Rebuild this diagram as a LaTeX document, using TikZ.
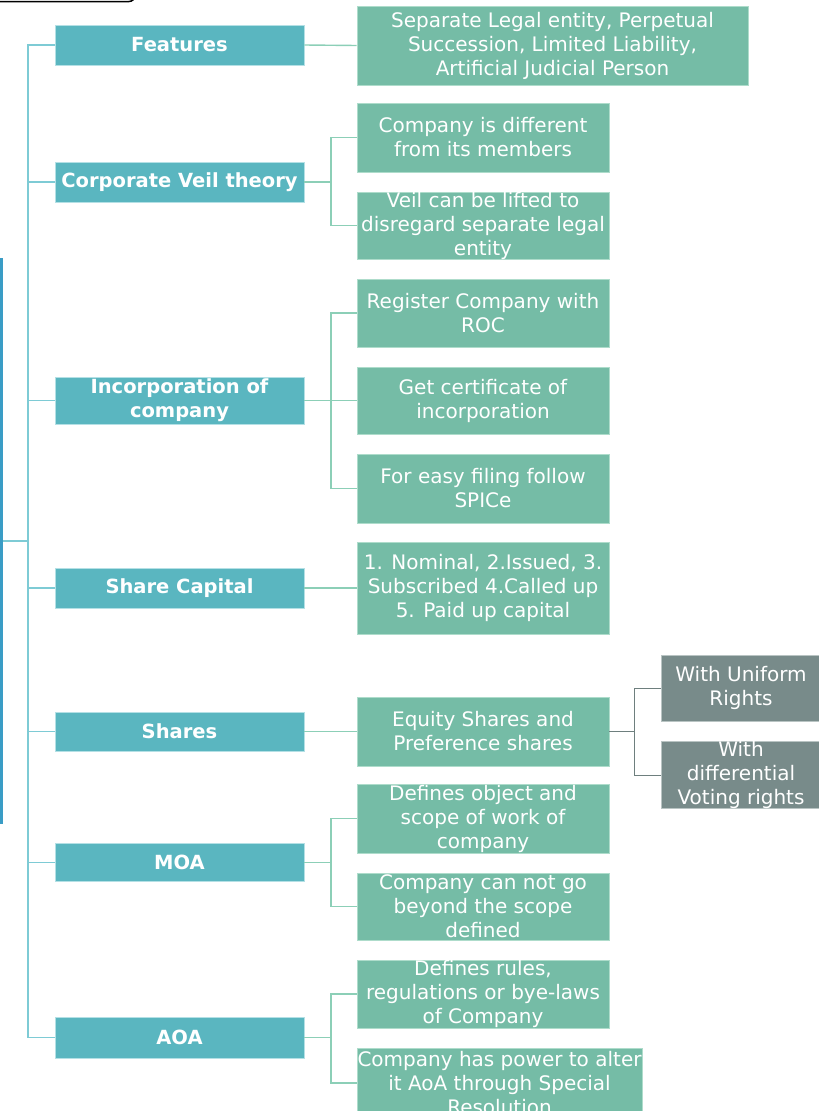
\documentclass[tikz,border=0pt]{standalone}
\usepackage{fontspec}
\setmainfont{DejaVu Sans}
\definecolor{topicfill}{HTML}{5AB6C0}
\definecolor{topicedge}{HTML}{B4E0E5}
\definecolor{leaffill}{HTML}{75BCA6}
\definecolor{leafedge}{HTML}{AEDCCB}
\definecolor{subfill}{HTML}{788B8A}
\definecolor{subedge}{HTML}{B9C4C3}
\definecolor{trunkcol}{HTML}{7ECBD5}
\definecolor{leafcol}{HTML}{8CCFB7}
\definecolor{subcol}{HTML}{6E7F7E}
\definecolor{barblue}{HTML}{3A9CC5}

\begin{document}
\begin{tikzpicture}[x=1pt,y=-1pt,
    topic/.style={fill=topicfill,draw=topicedge,line width=0.6pt,text=white,
        font=\fontsize{19.5}{24}\selectfont\bfseries,align=center,inner sep=0pt,minimum width=249pt},
    leaf/.style={fill=leaffill,draw=leafedge,line width=0.6pt,text=white,
        font=\fontsize{20}{24}\selectfont,align=center,inner sep=0pt,minimum width=252pt},
    subleaf/.style={fill=subfill,draw=subedge,line width=0.6pt,text=white,
        font=\fontsize{20}{24}\selectfont,align=center,inner sep=0pt,minimum width=160pt},
    trunkline/.style={draw=trunkcol,line width=1.4pt},
    leafline/.style={draw=leafcol,line width=1.4pt},
    subline/.style={draw=subcol,line width=1pt}]
    \useasboundingbox (0,0) rectangle (819,1111);
    \clip (0,0) rectangle (819,1111);

    % cut-off title box and side bar
    \draw[black,line width=1.5pt,rounded corners=6pt,fill=white] (-20,-40) rectangle (135,1.5);
    \node[fill=barblue,inner sep=0pt,minimum width=3pt,minimum height=566pt] (bar) at (1.5,541) {};
    \coordinate (spine) at (28,0);
    \coordinate (fork) at (331,0);
    \coordinate (subfork) at (634,0);

    % main topics
    \node[topic,minimum height=40pt] (feat) at (179.5,45) {Features};
    \node[topic,minimum height=40pt] (veil) at (179.5,182) {Corporate Veil theory};
    \node[topic,minimum height=47pt] (inc) at (179.5,400.5) {Incorporation of\\company};
    \node[topic,minimum height=40pt] (cap) at (179.5,588) {Share Capital};
    \node[topic,minimum height=39pt] (shares) at (179.5,731.5) {Shares};
    \node[topic,minimum height=38pt] (moa) at (179.5,862.5) {MOA};
    \node[topic,minimum height=41pt] (aoa) at (179.5,1037.5) {AOA};

    % details
    \node[leaf,minimum width=391pt,minimum height=79pt] (featA) at (552.5,45.5) {Separate Legal entity, Perpetual\\Succession, Limited Liability,\\Artificial Judicial Person};
    \node[leaf,minimum height=69pt] (veilA) at (483,137.5) {Company is different\\from its members};
    \node[leaf,minimum height=67pt] (veilB) at (483,225.5) {Veil can be lifted to\\disregard separate legal\\entity};
    \node[leaf,minimum height=68pt] (incA) at (483,313) {Register Company with\\ROC};
    \node[leaf,minimum height=67pt] (incB) at (483,400.5) {Get certificate of\\incorporation};
    \node[leaf,minimum height=69pt] (incC) at (483,488.5) {For easy filing follow\\SPICe};
    \node[leaf,minimum height=92pt] (capA) at (483,588) {1. Nominal, 2.Issued, 3.\\Subscribed 4.Called up\\5. Paid up capital};
    \node[leaf,minimum height=69pt] (sharesA) at (483,731.5) {Equity Shares and\\Preference shares};
    \node[leaf,minimum height=69pt] (moaA) at (483,818.5) {Defines object and\\scope of work of\\company};
    \node[leaf,minimum height=67pt] (moaB) at (483,906.5) {Company can not go\\beyond the scope\\defined};
    \node[leaf,minimum height=68pt] (aoaA) at (483,994) {Defines rules,\\regulations or bye-laws\\of Company};
    \node[leaf,minimum width=285pt,minimum height=70pt] (aoaB) at (499.5,1083) {Company has power to alter\\it AoA through Special\\Resolution};
    \node[subleaf,minimum height=66pt] (uniform) at (741,688) {With Uniform\\Rights};
    \node[subleaf,minimum height=66pt] (diff) at (741,775) {With\\differential\\Voting rights};

    % connectors
    \draw[trunkline] (bar.east) -- (bar.east -| spine);
    \draw[trunkline] (feat.west) -- (feat.west -| spine) |- (aoa.west);
    \foreach \t in {veil,inc,cap,shares,moa}
        \draw[trunkline] (\t.west) -- (\t.west -| spine);

    \draw[leafline] (feat.east) -- (featA.west);
    \draw[leafline] (cap.east) -- (capA.west);
    \draw[leafline] (shares.east) -- (sharesA.west);
    \draw[leafline] (veil.east) -- (veil.east -| fork);
    \draw[leafline] (veilA.west) -- (veilA.west -| fork) |- (veilB.west);
    \draw[leafline] (inc.east) -- (incB.west);
    \draw[leafline] (incA.west) -- (incA.west -| fork) |- (incC.west);
    \draw[leafline] (moa.east) -- (moa.east -| fork);
    \draw[leafline] (moaA.west) -- (moaA.west -| fork) |- (moaB.west);
    \draw[leafline] (aoa.east) -- (aoa.east -| fork);
    \draw[leafline] (aoaA.west) -- (aoaA.west -| fork) |- (aoaB.west);

    \draw[subline] (sharesA.east) -- (sharesA.east -| subfork);
    \draw[subline] (uniform.west) -- (uniform.west -| subfork) |- (diff.west);
\end{tikzpicture}
\end{document}
